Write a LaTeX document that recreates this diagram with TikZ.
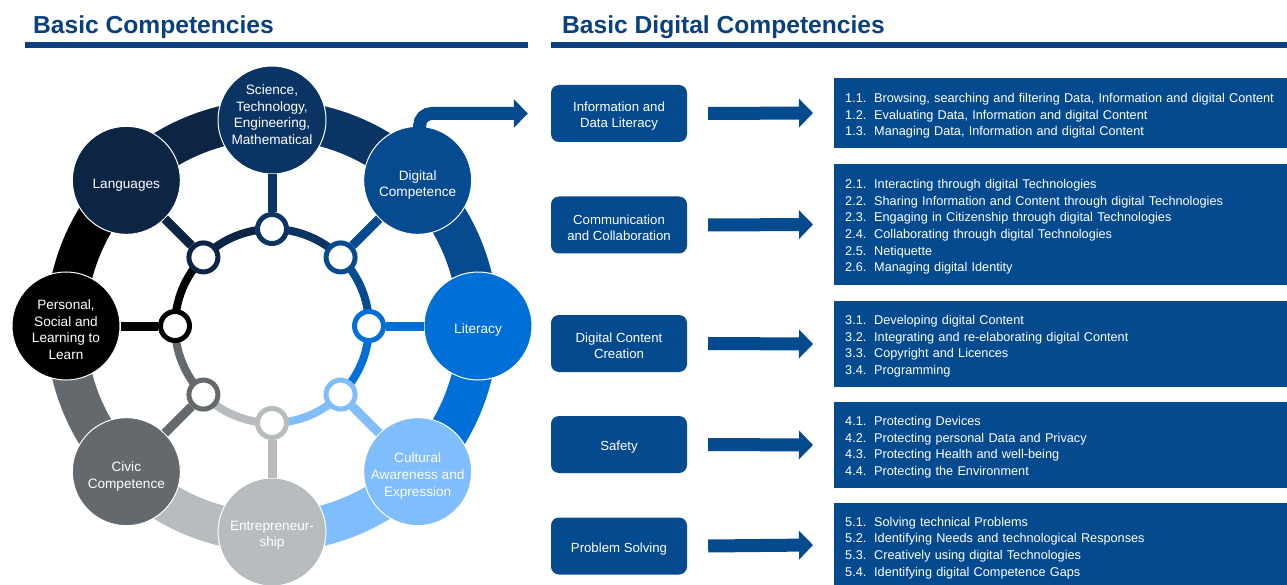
\documentclass[tikz,border=0pt]{standalone}
\usepackage{fontspec}
\setmainfont{Liberation Sans}
\usepackage{tikz}
\usetikzlibrary{arrows.meta, positioning, calc}

\definecolor{titleblue}{HTML}{0A407D}
\definecolor{boxblue}{HTML}{044A8E}
\definecolor{langcol}{HTML}{0C2545}
\definecolor{stemcol}{HTML}{0A3463}
\definecolor{digcol}{HTML}{064A8F}
\definecolor{litcol}{HTML}{0070D8}
\definecolor{cultcol}{HTML}{80BDFC}
\definecolor{entcol}{HTML}{B7BCBE}
\definecolor{civcol}{HTML}{63696C}
\definecolor{perscol}{HTML}{000000}

\newcommand{\compitem}[2]{\mbox{\makebox[29pt][l]{#1}#2}}
\newcommand{\toppad}[1]{\rule{0pt}{#1}}
\newcommand{\botpad}[1]{\rule[-#1]{0pt}{#1}}

\begin{document}
\begin{tikzpicture}[x=1pt, y=1pt,
    comp/.style={circle, minimum size=108pt, inner sep=0pt, draw=white, line width=1pt, text=white, align=center, font=\fontsize{13.6}{16.8}\selectfont},
    hub/.style={circle, minimum size=29pt, inner sep=0pt, fill=white, line width=5pt},
    band/.style={line width=40pt},
    ring/.style={line width=8pt},
    spoke/.style={line width=9pt},
    area/.style={rectangle, rounded corners=8pt, fill=boxblue, minimum width=136pt, minimum height=57pt, text=white, align=center, font=\fontsize{13.2}{16}\selectfont},
    list/.style={rectangle, fill=boxblue, anchor=west, text width=431pt, inner xsep=11pt, inner ysep=0pt, text=white, align=left, font=\fontsize{12.7}{16.6}\selectfont},
    bigarrow/.style={boxblue, line width=13pt, -{Triangle[length=14pt, width=28pt]}},
    title/.style={anchor=base west, inner sep=0pt, text=titleblue, font=\fontsize{24.6}{29}\selectfont\bfseries}
]
        \useasboundingbox (0,0) rectangle (1287,-585);

        % Titles
        \node[title] (lefttitle) at (33,-34) {Basic Competencies};
        \fill[titleblue] (25,-42) rectangle (528,-48);
        \node[title] (righttitle) at (562,-34) {Basic Digital Competencies};
        \fill[titleblue] (551,-42) rectangle (1287,-48);

        % Wheel centre
        \coordinate (c) at (272,-326);

        % Outer band
        \draw[band, perscol] ([shift={(180:206)}]c) arc[start angle=180, end angle=135, radius=206pt];
        \draw[band, langcol] ([shift={(135:206)}]c) arc[start angle=135, end angle=90, radius=206pt];
        \draw[band, stemcol] ([shift={(90:206)}]c) arc[start angle=90, end angle=45, radius=206pt];
        \draw[band, digcol] ([shift={(45:206)}]c) arc[start angle=45, end angle=0, radius=206pt];
        \draw[band, litcol] ([shift={(0:206)}]c) arc[start angle=0, end angle=-45, radius=206pt];
        \draw[band, cultcol] ([shift={(-45:206)}]c) arc[start angle=-45, end angle=-90, radius=206pt];
        \draw[band, entcol] ([shift={(-90:206)}]c) arc[start angle=-90, end angle=-135, radius=206pt];
        \draw[band, civcol] ([shift={(-135:206)}]c) arc[start angle=-135, end angle=-180, radius=206pt];

        % Inner ring
        \draw[ring, perscol] ([shift={(180:97)}]c) arc[start angle=180, end angle=135, radius=97pt];
        \draw[ring, langcol] ([shift={(135:97)}]c) arc[start angle=135, end angle=90, radius=97pt];
        \draw[ring, stemcol] ([shift={(90:97)}]c) arc[start angle=90, end angle=45, radius=97pt];
        \draw[ring, digcol] ([shift={(45:97)}]c) arc[start angle=45, end angle=0, radius=97pt];
        \draw[ring, litcol] ([shift={(0:97)}]c) arc[start angle=0, end angle=-45, radius=97pt];
        \draw[ring, cultcol] ([shift={(-45:97)}]c) arc[start angle=-45, end angle=-90, radius=97pt];
        \draw[ring, entcol] ([shift={(-90:97)}]c) arc[start angle=-90, end angle=-135, radius=97pt];
        \draw[ring, civcol] ([shift={(-135:97)}]c) arc[start angle=-135, end angle=-180, radius=97pt];

        % Hubs
        \node[hub, draw=perscol] (hpers) at ([shift={(180:97)}]c) {};
        \node[hub, draw=langcol] (hlang) at ([shift={(135:97)}]c) {};
        \node[hub, draw=stemcol] (hstem) at ([shift={(90:97)}]c) {};
        \node[hub, draw=digcol] (hdig) at ([shift={(45:97)}]c) {};
        \node[hub, draw=litcol] (hlit) at ([shift={(0:97)}]c) {};
        \node[hub, draw=cultcol] (hcult) at ([shift={(-45:97)}]c) {};
        \node[hub, draw=entcol] (hent) at ([shift={(-90:97)}]c) {};
        \node[hub, draw=civcol] (hciv) at ([shift={(-135:97)}]c) {};

        % Competence circles
        \node[comp, fill=perscol] (pers) at ([shift={(180:206)}]c) {\toppad{17pt}Personal,\\Social and\\Learning to\\Learn};
        \node[comp, fill=langcol] (lang) at ([shift={(135:206)}]c) {\toppad{19pt}Languages};
        \node[comp, fill=stemcol] (stem) at ([shift={(90:206)}]c) {Science,\\Technology,\\Engineering,\\Mathematical\botpad{11pt}};
        \node[comp, fill=digcol] (dig) at ([shift={(45:206)}]c) {\toppad{19pt}Digital\\Competence};
        \node[comp, fill=litcol] (lit) at ([shift={(0:206)}]c) {\toppad{18pt}Literacy};
        \node[comp, fill=cultcol] (cult) at ([shift={(-45:206)}]c) {\toppad{18pt}Cultural\\Awareness and\\Expression};
        \node[comp, fill=entcol] (ent) at ([shift={(-90:206)}]c) {\toppad{16pt}Entrepreneur-\\ship};
        \node[comp, fill=civcol] (civ) at ([shift={(-135:206)}]c) {\toppad{19pt}Civic\\Competence};

        % Spokes
        \draw[spoke, perscol] (hpers) -- (pers);
        \draw[spoke, langcol] (hlang) -- (lang);
        \draw[spoke, stemcol] (hstem) -- (stem);
        \draw[spoke, digcol] (hdig) -- (dig);
        \draw[spoke, litcol] (hlit) -- (lit);
        \draw[spoke, cultcol] (hcult) -- (cult);
        \draw[spoke, entcol] (hent) -- (ent);
        \draw[spoke, civcol] (hciv) -- (civ);

        % Digital competence areas
        \node[area] (infobox) at (619,-113.5) {\toppad{15pt}Information and\\Data Literacy};
        \node[area] (commbox) at (619,-225) {\toppad{15pt}Communication\\and Collaboration};
        \node[area] (contbox) at (619,-343.5) {\toppad{15pt}Digital Content\\Creation};
        \node[area] (safebox) at (619,-444.5) {\toppad{15pt}Safety};
        \node[area] (probbox) at (619,-546) {\toppad{15pt}Problem Solving};

        % Arrow out of the wheel
        \draw[bigarrow, rounded corners=12pt] ([shift={(2pt,-2pt)}]dig.north) |- ([xshift=-23pt]infobox.west);

        % Competence lists
        \node[list, minimum height=70pt] (infolist) at (834,-113) {%
            \toppad{15pt}\compitem{1.1.}{Browsing, searching and filtering Data, Information and digital Content}\\
            \compitem{1.2.}{Evaluating Data, Information and digital Content}\\
            \compitem{1.3.}{Managing Data, Information and digital Content}};
        \node[list, minimum height=121pt] (commlist) at (834,-224.5) {%
            \toppad{14pt}\compitem{2.1.}{Interacting through digital Technologies}\\
            \compitem{2.2.}{Sharing Information and Content through digital Technologies}\\
            \compitem{2.3.}{Engaging in Citizenship through digital Technologies}\\
            \compitem{2.4.}{Collaborating through digital Technologies}\\
            \compitem{2.5.}{Netiquette}\\
            \compitem{2.6.}{Managing digital Identity}};
        \node[list, minimum height=86pt] (contlist) at (834,-344) {%
            \toppad{14pt}\compitem{3.1.}{Developing digital Content}\\
            \compitem{3.2.}{Integrating and re-elaborating digital Content}\\
            \compitem{3.3.}{Copyright and Licences}\\
            \compitem{3.4.}{Programming}};
        \node[list, minimum height=86pt] (safelist) at (834,-445) {%
            \toppad{14pt}\compitem{4.1.}{Protecting Devices}\\
            \compitem{4.2.}{Protecting personal Data and Privacy}\\
            \compitem{4.3.}{Protecting Health and well-being}\\
            \compitem{4.4.}{Protecting the Environment}};
        \node[list, minimum height=84pt] (problist) at (834,-545) {%
            \toppad{15pt}\compitem{5.1.}{Solving technical Problems}\\
            \compitem{5.2.}{Identifying Needs and technological Responses}\\
            \compitem{5.3.}{Creatively using digital Technologies}\\
            \compitem{5.4.}{Identifying digital Competence Gaps}};

        % Arrows to the lists
        \draw[bigarrow] ([xshift=21pt]infobox.east) -- ([xshift=-21pt]infolist.west);
        \draw[bigarrow] ([xshift=21pt]commbox.east) -- ([xshift=-21pt]commlist.west);
        \draw[bigarrow] ([xshift=21pt]contbox.east) -- ([xshift=-21pt]contlist.west);
        \draw[bigarrow] ([xshift=21pt]safebox.east) -- ([xshift=-21pt]safelist.west);
        \draw[bigarrow] ([xshift=21pt]probbox.east) -- ([xshift=-21pt]problist.west);
    \end{tikzpicture}
\end{document}
